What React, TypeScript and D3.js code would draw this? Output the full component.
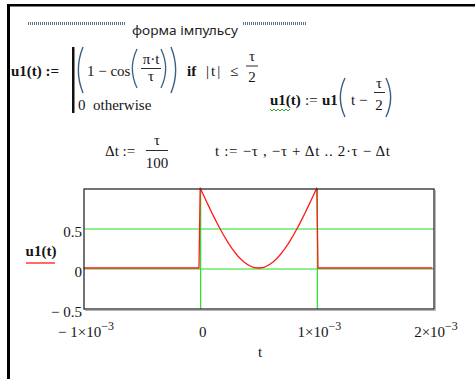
import React from 'react';
import * as d3 from 'd3';

// Pulse samples: time in ms, u1 value (raised-cosine pulse shifted by τ/2, τ = 1 ms)
const pulseTimeMs = [
  -1, -0.01, 0, 0.025, 0.05, 0.075, 0.1, 0.125, 0.15, 0.175, 0.2, 0.225, 0.25,
  0.275, 0.3, 0.325, 0.35, 0.375, 0.4, 0.425, 0.45, 0.475, 0.5, 0.525, 0.55,
  0.575, 0.6, 0.625, 0.65, 0.675, 0.7, 0.725, 0.75, 0.775, 0.8, 0.825, 0.85,
  0.875, 0.9, 0.925, 0.95, 0.975, 1, 1.01, 1.99,
];
const u1Values = [
  0, 0, 1, 0.922, 0.844, 0.767, 0.691, 0.617, 0.546, 0.478, 0.412, 0.351, 0.293,
  0.24, 0.191, 0.147, 0.109, 0.076, 0.049, 0.028, 0.012, 0.003, 0, 0.003, 0.012,
  0.028, 0.049, 0.076, 0.109, 0.147, 0.191, 0.24, 0.293, 0.351, 0.412, 0.478,
  0.546, 0.617, 0.691, 0.767, 0.844, 0.922, 1, 0, 0,
];

const xTicks = [-1e-3, 0, 1e-3, 2e-3];
const xTickMantissa = ['\u2212 1', '0', '1', '2'];
const xTickExponent = ['\u22123', '', '\u22123', '\u22123'];
const yTicks = [-0.5, 0, 0.5];
const yTickLabels = ['\u2212 0.5', '0', '0.5'];
const markerX = [0, 1e-3];
const markerY = [0, 0.5];

const SERIF = 'Liberation Serif, DejaVu Serif, serif';
const SANS = 'Noto Sans, Open Sans, DejaVu Sans, sans-serif';
const INK = '#141414';
const PAREN = '#3d5f80';

// A tall bracket drawn as a curve
function parenPath(x: number, y0: number, y1: number, left: boolean) {
  const w = 6;
  if (left) {
    return `M${x + w},${y0} Q${x - w * 0.55},${(y0 + y1) / 2} ${x + w},${y1}`;
  }
  return `M${x},${y0} Q${x + w * 1.55},${(y0 + y1) / 2} ${x},${y1}`;
}

type TProps = React.SVGProps<SVGTextElement> & { bold?: boolean };
function T({ bold, style, children, ...rest }: TProps) {
  return (
    <text
      {...rest}
      style={{
        fontFamily: SERIF,
        fontSize: 15,
        fontWeight: bold ? 'bold' : 'normal',
        fill: INK,
        whiteSpace: 'pre',
        ...(style as object),
      }}
    >
      {children}
    </text>
  );
}

export default function App() {
  const W = 475;
  const H = 379;
  const plot = { left: 84, right: 434, top: 189, bottom: 309 };

  const x = d3.scaleLinear().domain([-1e-3, 2e-3]).range([plot.left, plot.right]);
  const y = d3.scaleLinear().domain([-0.5, 1]).range([plot.bottom, plot.top]);

  const points: [number, number][] = pulseTimeMs.map((t, i) => [t * 1e-3, u1Values[i]]);
  const line = d3
    .line<[number, number]>()
    .x((d) => x(d[0]))
    .y((d) => y(d[1]));

  // zigzag underline (spell-check mark)
  let squiggle = 'M270,109';
  for (let i = 0; i < 10; i++) squiggle += ` l2,${i % 2 === 0 ? 2 : -2}`;

  return (
    <svg
      width={W}
      height={H}
      style={{ position: 'absolute', left: 0, top: 0, background: '#fff' }}
    >
      <rect x={0} y={0} width={W} height={H} fill="#fff" />
      {/* worksheet frame */}
      <rect x={7} y={4} width={W - 7} height={2.5} fill="#000" />
      <rect x={7} y={4} width={3} height={H - 4} fill="#000" />

      {/* section header */}
      <line x1={28} x2={125} y1={23.5} y2={23.5} stroke="#5d6f8c" strokeWidth={3} strokeDasharray="1 1" />
      <line x1={243} x2={307} y1={23.5} y2={23.5} stroke="#5d6f8c" strokeWidth={3} strokeDasharray="1 1" />
      <text
        x={132}
        y={35}
        textLength={106}
        lengthAdjust="spacingAndGlyphs"
        style={{ fontFamily: SANS, fontSize: 13, fill: '#222' }}
      >
        форма імпульсу
      </text>

      {/* u1(t) definition */}
      <T x={11} y={76} bold>u1(t) :=</T>
      <rect x={72} y={47} width={2.5} height={66} fill="#111" />
      <path d={parenPath(77, 47, 93, true)} fill="none" stroke={PAREN} strokeWidth={1.4} />
      <T x={87} y={76}>1 − cos</T>
      <path d={parenPath(131, 49, 88, true)} fill="none" stroke={PAREN} strokeWidth={1.3} />
      <T x={151} y={64} textAnchor="middle">π·t</T>
      <line x1={141} x2={161} y1={68.5} y2={68.5} stroke={INK} strokeWidth={0.9} />
      <T x={151} y={81} textAnchor="middle">τ</T>
      <path d={parenPath(161, 49, 88, false)} fill="none" stroke={PAREN} strokeWidth={1.3} />
      <path d={parenPath(171, 47, 93, false)} fill="none" stroke={PAREN} strokeWidth={1.4} />
      <T x={187} y={76} bold>if</T>
      <T x={206} y={76} style={{ letterSpacing: 2 }}>|t|</T>
      <T x={230} y={76}>≤</T>
      <T x={252} y={61} textAnchor="middle">τ</T>
      <line x1={246} x2={258} y1={66} y2={66} stroke={INK} strokeWidth={0.9} />
      <T x={252} y={82} textAnchor="middle">2</T>
      <T x={78} y={110}>0  otherwise</T>

      {/* shifted pulse */}
      <T x={270} y={105} bold>u1(t)</T>
      <path d={squiggle} fill="none" stroke="#3aa33a" strokeWidth={1} />
      <T x={305} y={105}>:=</T>
      <T x={322} y={105} bold>u1</T>
      <path d={parenPath(339, 78, 117, true)} fill="none" stroke={PAREN} strokeWidth={1.4} />
      <T x={351} y={105}>t −</T>
      <T x={379} y={88} textAnchor="middle">τ</T>
      <line x1={374} x2={385} y1={92.5} y2={92.5} stroke={INK} strokeWidth={0.9} />
      <T x={379} y={110} textAnchor="middle">2</T>
      <path d={parenPath(386, 78, 117, false)} fill="none" stroke={PAREN} strokeWidth={1.4} />

      {/* step and range */}
      <T x={105} y={156}>Δt :=</T>
      <T x={157} y={145} textAnchor="middle">τ</T>
      <line x1={146} x2={168} y1={150.5} y2={150.5} stroke={INK} strokeWidth={0.9} />
      <T x={157} y={168} textAnchor="middle">100</T>
      <T x={215} y={156} textLength={175} lengthAdjust="spacing">
        t := −τ , −τ + Δt .. 2·τ − Δt
      </T>

      {/* plot */}
      <g>
        {markerY.map((v) => (
          <line key={`my${v}`} x1={plot.left} x2={plot.right} y1={y(v)} y2={y(v)} stroke="#22e022" strokeWidth={1.2} />
        ))}
        {markerX.map((v) => (
          <line key={`mx${v}`} x1={x(v)} x2={x(v)} y1={plot.top} y2={plot.bottom} stroke="#22e022" strokeWidth={1.2} />
        ))}
        <path
          d={line(points) ?? ''}
          fill="none"
          stroke="#ff1a1a"
          strokeWidth={1.3}
          strokeLinejoin="round"
          transform="translate(-0.5,-1)"
        />
        {/* plot frame with a soft shadow */}
        <line x1={plot.right + 1.5} x2={plot.right + 1.5} y1={plot.top + 1} y2={plot.bottom + 1.5} stroke="#b5b5b5" strokeWidth={1} />
        <line x1={plot.left + 1} x2={plot.right + 1.5} y1={plot.bottom + 1.5} y2={plot.bottom + 1.5} stroke="#b5b5b5" strokeWidth={1} />
        <rect
          x={plot.left}
          y={plot.top}
          width={plot.right - plot.left}
          height={plot.bottom - plot.top}
          fill="none"
          stroke="#2a2a2a"
          strokeWidth={1.3}
        />

        {yTicks.map((v, i) => (
          <T key={`yt${v}`} x={plot.left - 2} y={y(v) + 7.5} textAnchor="end">
            {yTickLabels[i]}
          </T>
        ))}
        {xTicks.map((v, i) => (
          <T key={`xt${v}`} x={x(v) + 2} y={337} textAnchor="middle">
            {xTickMantissa[i]}
            {xTickExponent[i] ? (
              <>
                <tspan>×10</tspan>
                <tspan dy={-7} style={{ fontSize: 12 }}>{xTickExponent[i]}</tspan>
              </>
            ) : null}
          </T>
        ))}
        <T x={(plot.left + plot.right) / 2 + 1} y={357} textAnchor="middle">t</T>

        {/* y-axis trace label */}
        <T x={41} y={256} textAnchor="middle" bold>u1(t)</T>
        <line x1={26} x2={55} y1={263} y2={263} stroke="#ff1a1a" strokeWidth={1.3} />
      </g>
    </svg>
  );
}
